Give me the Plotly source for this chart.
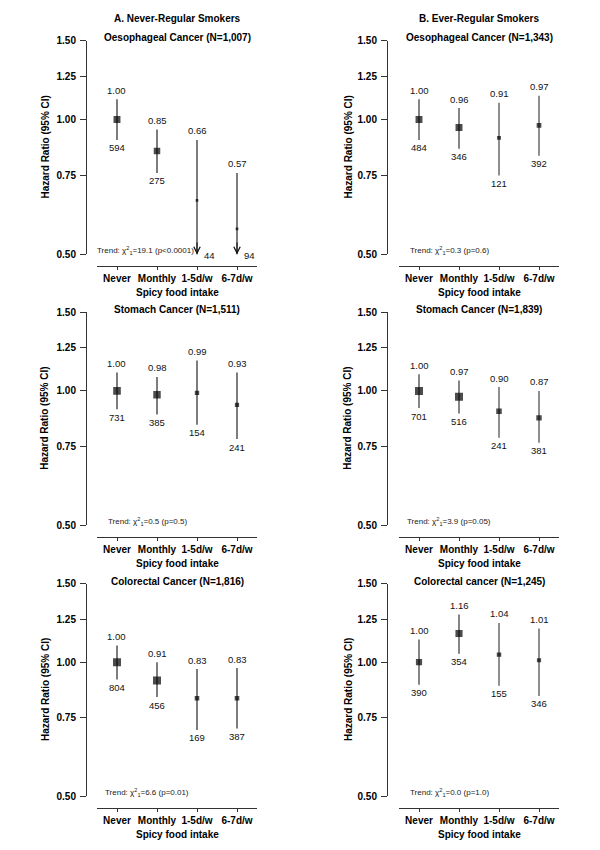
import math
import plotly.graph_objects as go

# ---------------- data ----------------
categories = ["Never", "Monthly", "1-5d/w", "6-7d/w"]
y_ticks = [0.50, 0.75, 1.00, 1.25, 1.50]
y_min, y_max = 0.50, 1.50

group_titles = ["A. Never-Regular Smokers", "B. Ever-Regular Smokers"]

panel_titles = [
    "Oesophageal Cancer (N=1,007)", "Oesophageal Cancer (N=1,343)",
    "Stomach Cancer (N=1,511)", "Stomach Cancer (N=1,839)",
    "Colorectal Cancer (N=1,816)", "Colorectal cancer (N=1,245)",
]

hr_a_oes = [1.00, 0.85, 0.66, 0.57]
lo_a_oes = [0.90, 0.76, 0.48, 0.43]
hi_a_oes = [1.11, 0.95, 0.90, 0.76]
n_a_oes = [594, 275, 44, 94]

hr_b_oes = [1.00, 0.96, 0.91, 0.97]
lo_b_oes = [0.90, 0.86, 0.75, 0.83]
hi_b_oes = [1.11, 1.06, 1.09, 1.13]
n_b_oes = [484, 346, 121, 392]

hr_a_sto = [1.00, 0.98, 0.99, 0.93]
lo_a_sto = [0.91, 0.885, 0.84, 0.78]
hi_a_sto = [1.10, 1.075, 1.17, 1.10]
n_a_sto = [731, 385, 154, 241]

hr_b_sto = [1.00, 0.97, 0.90, 0.87]
lo_b_sto = [0.915, 0.89, 0.785, 0.765]
hi_b_sto = [1.09, 1.055, 1.02, 1.00]
n_b_sto = [701, 516, 241, 381]

hr_a_col = [1.00, 0.91, 0.83, 0.83]
lo_a_col = [0.915, 0.835, 0.705, 0.71]
hi_a_col = [1.09, 1.00, 0.965, 0.97]
n_a_col = [804, 456, 169, 387]

hr_b_col = [1.00, 1.16, 1.04, 1.01]
lo_b_col = [0.89, 1.045, 0.885, 0.84]
hi_b_col = [1.125, 1.28, 1.225, 1.19]
n_b_col = [390, 354, 155, 346]

trend_chi2 = ["19.1", "0.3", "0.5", "3.9", "6.6", "0.0"]
trend_p = ["p<0.0001", "p=0.6", "p=0.5", "p=0.05", "p=0.01", "p=1.0"]

panels = [
    (hr_a_oes, lo_a_oes, hi_a_oes, n_a_oes),
    (hr_b_oes, lo_b_oes, hi_b_oes, n_b_oes),
    (hr_a_sto, lo_a_sto, hi_a_sto, n_a_sto),
    (hr_b_sto, lo_b_sto, hi_b_sto, n_b_sto),
    (hr_a_col, lo_a_col, hi_a_col, n_a_col),
    (hr_b_col, lo_b_col, hi_b_col, n_b_col),
]

# ---------------- layout geometry (pixels) ----------------
W, H = 600, 850
FONT = "Liberation Sans, Arial, sans-serif"
col_x_dom = [(97, 257), (399, 559)]
col_yaxis_pos = [86, 387]
col_ytitle_x = [45, 348]
row_top = [35, 310.7, 586]
row_bot = [252, 526.7, 801.7]
row_xline = [263.3, 538.3, 813.3]

# line style per column (A: black thin; B: later categories grey and thicker)
line_style = [
    [("#111111", 1.1)] * 4,
    [("#333333", 1.2), ("#333333", 1.2), ("#8a8a8a", 1.9), ("#8a8a8a", 1.9)],
]

def px_x(v):
    return v / W

def px_y(v):
    return 1 - v / H

fig = go.Figure()
annotations = []
layout = dict(
    width=W, height=H,
    margin=dict(l=0, r=0, t=0, b=0),
    paper_bgcolor="white", plot_bgcolor="white",
    showlegend=False,
    font=dict(family=FONT, color="black"),
)

for p, (hr, lo, hi, n) in enumerate(panels):
    row, col = divmod(p, 2)
    k = p + 1
    xa = "x" if k == 1 else f"x{k}"
    ya = "y" if k == 1 else f"y{k}"
    xkey = "xaxis" if k == 1 else f"xaxis{k}"
    ykey = "yaxis" if k == 1 else f"yaxis{k}"

    layout[xkey] = dict(
        domain=[px_x(col_x_dom[col][0]), px_x(col_x_dom[col][1])],
        range=[-0.5, 3.5], anchor="free", position=px_y(row_xline[row]),
        showline=True, linecolor="#333333", linewidth=1,
        ticks="outside", ticklen=3, tickcolor="#333333", tickwidth=1,
        tickmode="array", tickvals=list(range(len(categories))), ticktext=categories,
        tickfont=dict(family=FONT, size=10, color="black", weight="bold"),
        showgrid=False, zeroline=False, fixedrange=True,
    )
    layout[ykey] = dict(
        domain=[px_y(row_bot[row]), px_y(row_top[row])],
        type="log", range=[math.log10(y_min), math.log10(y_max)],
        anchor="free", position=px_x(col_yaxis_pos[col]),
        showline=True, linecolor="#333333", linewidth=1,
        ticks="outside", ticklen=6, tickcolor="#333333", tickwidth=1,
        tickmode="array", tickvals=y_ticks, ticktext=[f"{v:.2f}" for v in y_ticks],
        tickfont=dict(family=FONT, size=10, color="black", weight="bold"),
        ticklabelstandoff=2,
        showgrid=False, zeroline=False, fixedrange=True,
    )

    # CI lines
    for i in range(len(categories)):
        lo_draw = max(lo[i], y_min)
        color, width = line_style[col][i]
        fig.add_trace(go.Scatter(
            x=[i, i], y=[lo_draw, hi[i]], mode="lines",
            line=dict(color=color, width=width),
            xaxis=xa, yaxis=ya, hoverinfo="skip",
        ))
        if lo[i] < y_min:
            annotations.append(dict(
                x=i, y=math.log10(y_min), xref=xa, yref=ya,
                text=" ", showarrow=True, ax=0, ay=-14,
                arrowhead=5, arrowsize=1.25, arrowwidth=1, arrowcolor=color,
                standoff=0, font=dict(size=1),
            ))

    # markers (size proportional to precision)
    sizes = [min(8.0, max(2.7, 1.45 / math.log(h / l))) for h, l in zip(hi, lo)]
    fig.add_trace(go.Scatter(
        x=list(range(len(categories))), y=hr, mode="markers",
        marker=dict(symbol="square", color="black", size=sizes, line=dict(width=0)),
        xaxis=xa, yaxis=ya,
        hovertemplate="%{y:.2f}<extra></extra>",
    ))

    # value labels
    for i in range(len(categories)):
        annotations.append(dict(
            x=i, y=math.log10(hi[i]), xref=xa, yref=ya, text=f"{hr[i]:.2f}",
            showarrow=False, yshift=9, yanchor="middle",
            font=dict(family=FONT, size=9.5, color="#111111"),
        ))
        if lo[i] < y_min:
            annotations.append(dict(
                x=i, y=math.log10(y_min), xref=xa, yref=ya, text=str(n[i]),
                showarrow=False, xshift=12, yshift=-1, yanchor="middle",
                font=dict(family=FONT, size=9.5, color="#111111"),
            ))
        else:
            annotations.append(dict(
                x=i, y=math.log10(lo[i]), xref=xa, yref=ya, text=str(n[i]),
                showarrow=False, yshift=-8, yanchor="middle",
                font=dict(family=FONT, size=9.5, color="#111111"),
            ))

    # trend text
    annotations.append(dict(
        x=0.72 if p == 0 else 0.76, y=math.log10(y_min), xref=xa, yref=ya,
        text=f"Trend: χ<sup>2</sup><sub>1</sub>={trend_chi2[p]} ({trend_p[p]})",
        showarrow=False, yshift=4, yanchor="middle", xanchor="center",
        font=dict(family=FONT, size=8, color="#222222"),
    ))

    # panel title
    cx = (col_x_dom[col][0] + col_x_dom[col][1]) / 2
    annotations.append(dict(
        x=px_x(cx), y=px_y(row_top[row] - 2.7), xref="paper", yref="paper",
        text=f"<b>{panel_titles[p]}</b>", showarrow=False,
        xanchor="center", yanchor="middle",
        font=dict(family=FONT, size=10, color="black"),
    ))
    # x-axis title
    annotations.append(dict(
        x=px_x(cx), y=px_y(row_xline[row] + 27), xref="paper", yref="paper",
        text="<b>Spicy food intake</b>", showarrow=False,
        xanchor="center", yanchor="middle",
        font=dict(family=FONT, size=10, color="black"),
    ))
    # y-axis title
    annotations.append(dict(
        x=px_x(col_ytitle_x[col]), y=px_y((row_top[row] + row_bot[row]) / 2),
        xref="paper", yref="paper", text="<b>Hazard Ratio (95% CI)</b>",
        showarrow=False, textangle=-90, xanchor="center", yanchor="middle",
        font=dict(family=FONT, size=10, color="black"),
    ))

for col in range(2):
    cx = (col_x_dom[col][0] + col_x_dom[col][1]) / 2
    annotations.append(dict(
        x=px_x(cx), y=px_y(13), xref="paper", yref="paper",
        text=f"<b>{group_titles[col]}</b>", showarrow=False,
        xanchor="center", yanchor="middle",
        font=dict(family=FONT, size=10, color="black"),
    ))

layout["annotations"] = annotations
fig.update_layout(**layout)
fig.write_html(
    "out.html",
    config={"displayModeBar": False},
    post_script="document.body.style.margin='0';document.body.style.padding='0';",
)
